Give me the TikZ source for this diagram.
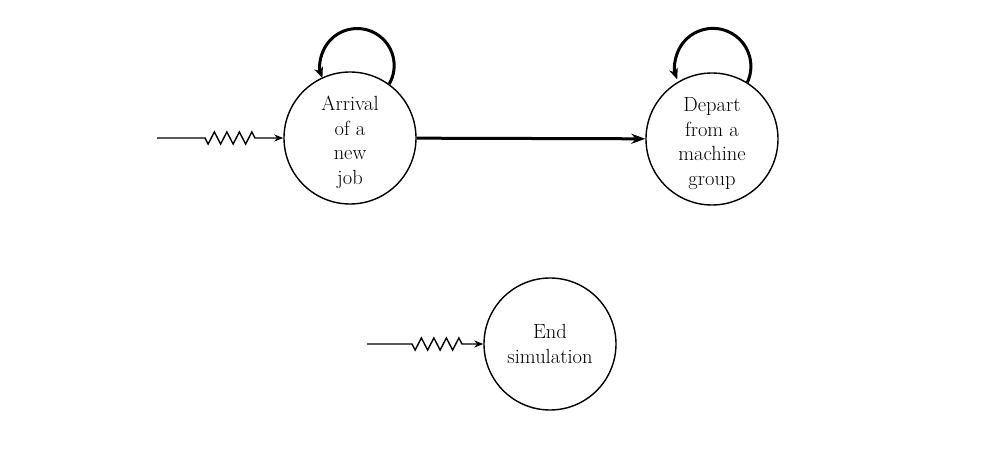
\documentclass[tikz,border=0pt]{standalone}
\usepackage{fontspec}
\usetikzlibrary{arrows.meta,decorations.pathmorphing}
\newcommand\toplift{\rule{0pt}{23pt}}
\begin{document}
\begin{tikzpicture}[x=1pt,y=1pt,
  event/.style={circle,draw,line width=1.4pt,minimum size=132pt,inner sep=0pt,align=center,font=\fontsize{20.5}{24.5}\selectfont},
  thinarrow/.style={line width=1.4pt,-{Stealth[length=9pt,width=7pt]}},
  thickarrow/.style={line width=3pt,-{Stealth[length=14pt,width=10pt]}},
  looparrow/.style={line width=3pt,-{Stealth[length=11pt,width=9pt]}},
  zz/.style={decoration={zigzag,segment length=12.5pt,amplitude=-6pt}}]
\useasboundingbox[fill=white] (0,0) rectangle (1005,-449);
\node[event] (arr) at (350,-138) {\toplift Arrival\\of a\\new\\job};
\node[event] (dep) at (712,-139) {\toplift Depart\\from a\\machine\\group};
\node[event] (endsim) at (550,-344) {End\\simulation};
% input to arrival
\coordinate (a0) at (157,-138);
\coordinate (a1) at (205,-138);
\coordinate (a2) at (257,-138);
\draw[thinarrow] (a0) -- (a1) decorate[zz]{-- (a2)} -- (arr.west);
% input to end
\coordinate (e0) at (367,-344);
\coordinate (e1) at (412,-344);
\coordinate (e2) at (462,-344);
\draw[thinarrow] (e0) -- (e1) decorate[zz]{-- (e2)} -- (endsim.west);
% main arrow
\draw[thickarrow] (arr) -- (dep);
% self loops
\draw[looparrow] (arr.54) arc[start angle=-30,end angle=200,radius=37];
\draw[looparrow] (dep.58) arc[start angle=-25,end angle=200,radius=38];
\end{tikzpicture}
\end{document}
